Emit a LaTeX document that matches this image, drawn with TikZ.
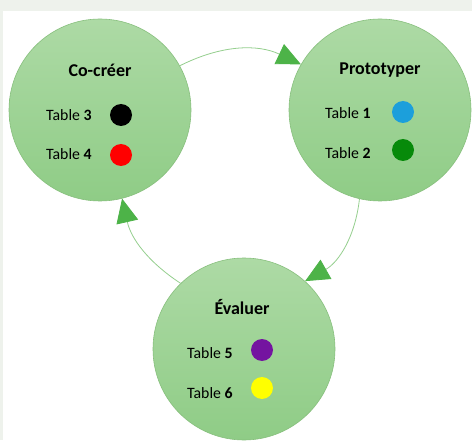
\documentclass[tikz,border=0pt]{standalone}
\usepackage{fontspec}
\setmainfont{Carlito}
\usetikzlibrary{arrows.meta}
\definecolor{bandgray}{HTML}{EEF2EC}
\definecolor{circtop}{HTML}{ADDAA5}
\definecolor{circbot}{HTML}{8FCC86}
\definecolor{circedge}{HTML}{86BF7C}
\definecolor{arrline}{HTML}{95CF8E}
\definecolor{arrhead}{HTML}{4DB348}
\definecolor{dotblue}{HTML}{1C9FDB}
\definecolor{dotgreen}{HTML}{078A0A}
\definecolor{dotpurple}{HTML}{7414A0}
\definecolor{dotyellow}{HTML}{FFFF00}
\definecolor{dotred}{HTML}{FF0000}
\tikzset{
  phase/.style={circle, minimum size=182pt, inner sep=0pt, draw=circedge, line width=0.6pt, top color=circtop, bottom color=circbot},
  ttl/.style={font=\fontsize{18}{21}\selectfont\bfseries, inner sep=0pt},
  tbl/.style={font=\fontsize{15.8}{18}\selectfont, anchor=west, inner sep=0pt},
  dotc/.style={circle, minimum size=22pt, inner sep=0pt, fill=#1},
  cyc/.style={draw=arrline, line width=0.8pt, -{Triangle[length=24pt,width=22pt,fill=arrhead,color=arrhead]}}
}
\begin{document}
\begin{tikzpicture}[x=1pt,y=1pt]
\useasboundingbox (0,0) rectangle (472,440);
\fill[white] (0,0) rectangle (472,440);
\fill[bandgray] (0,429) rectangle (472,440);
\fill[bandgray] (0,0) rectangle (3,440);
% circles
\node[phase] (A) at (100,330) {};
\node[phase] (B) at (380,330) {};
\node[phase] (C) at (244,91) {};
% titles
\node[ttl] (tA) at (100,370) {Co-créer};
\node[ttl] (tB) at (380,370) {Prototyper};
\node[ttl] (tC) at (242,133) {Évaluer};
% tables
\node[tbl] (t3) at (46,325) {Table \textbf{3}};
\node[tbl] (t4) at (46,286) {Table \textbf{4}};
\node[dotc=black] (d3) at (121,325) {};
\node[dotc=dotred] (d4) at (121,285) {};
\node[tbl] (t1) at (325,327) {Table \textbf{1}};
\node[tbl] (t2) at (325,287) {Table \textbf{2}};
\node[dotc=dotblue] (d1) at (403,328) {};
\node[dotc=dotgreen] (d2) at (403,290) {};
\node[tbl] (t5) at (187,87) {Table \textbf{5}};
\node[tbl] (t6) at (187,47) {Table \textbf{6}};
\node[dotc=dotpurple] (d5) at (262,90) {};
\node[dotc=dotyellow] (d6) at (262,52) {};
% cycle arrows
\draw[cyc] (A.29) to[bend left=26] (B.150);
\draw[cyc] (B.257) to[bend left=27] (C.48);
\draw[cyc] (C.134) to[bend left=22] (A.284);
\end{tikzpicture}
\end{document}
